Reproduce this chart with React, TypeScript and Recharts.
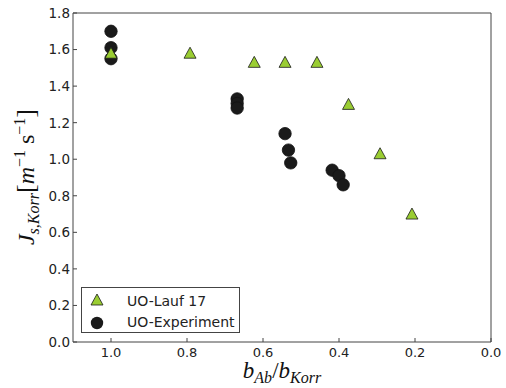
import { ReferenceArea, Scatter, ScatterChart, XAxis, YAxis } from "recharts";

const laufX = [1.0, 0.792, 0.623, 0.542, 0.458, 0.375, 0.292, 0.208];
const laufY = [1.58, 1.58, 1.53, 1.53, 1.53, 1.3, 1.03, 0.7];
const expX = [1.0, 1.0, 1.0, 0.668, 0.668, 0.668, 0.542, 0.533, 0.527, 0.418, 0.4, 0.389];
const expY = [1.7, 1.61, 1.55, 1.33, 1.305, 1.28, 1.14, 1.05, 0.98, 0.94, 0.91, 0.86];
const xTicks = [1.0, 0.8, 0.6, 0.4, 0.2, 0.0];
const yTicks = [0, 0.2, 0.4, 0.6, 0.8, 1.0, 1.2, 1.4, 1.6, 1.8];

const laufData = laufX.map((x, i) => ({ x, y: laufY[i] }));
const expData = expX.map((x, i) => ({ x, y: expY[i] }));

const FONT = "'DejaVu Sans', sans-serif";
const MATH = "'Liberation Serif', serif";
const FRAME = "#444";

const Triangle = (props: any) => {
  const { cx, cy } = props;
  return (
    <polygon
      points={`${cx},${cy - 6} ${cx + 6},${cy + 5} ${cx - 6},${cy + 5}`}
      fill="#9acd32"
      stroke="#1a1a1a"
      strokeWidth={0.8}
    />
  );
};

const Dot = (props: any) => {
  const { cx, cy } = props;
  return <circle cx={cx} cy={cy} r={6.2} fill="#1a1a1a" stroke="#111" strokeWidth={0.8} />;
};

const BottomTick = (props: any) => {
  const { x, y, payload } = props;
  return (
    <g>
      <line x1={x} y1={y} x2={x} y2={y - 4} stroke={FRAME} />
      <text x={x} y={y + 15} textAnchor="middle" fontSize={13} fontFamily={FONT} fill="#222">
        {payload.value.toFixed(1)}
      </text>
    </g>
  );
};

const TopTick = (props: any) => {
  const { x, y } = props;
  return <line x1={x} y1={y} x2={x} y2={y + 4} stroke={FRAME} />;
};

const LeftTick = (props: any) => {
  const { x, y, payload } = props;
  return (
    <g>
      <line x1={x} y1={y} x2={x + 4} y2={y} stroke={FRAME} />
      <text x={x - 3} y={y} dy="0.36em" textAnchor="end" fontSize={13.5} fontFamily={FONT} fill="#222">
        {payload.value.toFixed(1)}
      </text>
    </g>
  );
};

const RightTick = (props: any) => {
  const { x, y } = props;
  return <line x1={x} y1={y} x2={x - 4} y2={y} stroke={FRAME} />;
};

const LegendBox = () => (
  <div
    style={{
      position: "absolute",
      left: 81,
      top: 287,
      width: 159,
      height: 46,
      border: "1px solid #444",
      background: "#fff",
      boxSizing: "border-box",
    }}
  >
    <svg width={157} height={44} style={{ display: "block" }}>
      <polygon points="15,6 21,17 9,17" fill="#9acd32" stroke="#1a1a1a" strokeWidth={0.8} />
      <circle cx={15} cy={35} r={6.2} fill="#1a1a1a" />
      <text x={45} y={18} fontSize={14} fontFamily={FONT} fill="#222">
        UO-Lauf 17
      </text>
      <text x={45} y={39} fontSize={14} fontFamily={FONT} fill="#222">
        UO-Experiment
      </text>
    </svg>
  </div>
);

export default function App() {
  return (
    <div style={{ position: "absolute", left: 0, top: 0, width: 506, height: 388, background: "#fff" }}>
      <ScatterChart width={506} height={388} margin={{ top: 13, right: 15, left: 0, bottom: 0 }}>
        <XAxis
          xAxisId="b"
          type="number"
          dataKey="x"
          domain={[0, 1.1]}
          reversed
          ticks={xTicks}
          height={46}
          tickSize={0}
          tickMargin={0}
          tickLine={false}
          axisLine={false}
          tick={<BottomTick />}
          allowDataOverflow
        />
        <XAxis
          xAxisId="t"
          orientation="top"
          type="number"
          dataKey="x"
          domain={[0, 1.1]}
          reversed
          ticks={xTicks}
          height={0}
          tickSize={0}
          tickMargin={0}
          tickLine={false}
          axisLine={false}
          tick={<TopTick />}
          allowDataOverflow
        />
        <YAxis
          yAxisId="l"
          type="number"
          dataKey="y"
          domain={[0, 1.8]}
          ticks={yTicks}
          width={73}
          tickSize={0}
          tickMargin={0}
          tickLine={false}
          axisLine={false}
          tick={<LeftTick />}
          allowDataOverflow
        />
        <YAxis
          yAxisId="r"
          orientation="right"
          type="number"
          dataKey="y"
          domain={[0, 1.8]}
          ticks={yTicks}
          width={0}
          tickSize={0}
          tickMargin={0}
          tickLine={false}
          axisLine={false}
          tick={<RightTick />}
          allowDataOverflow
        />
        <ReferenceArea
          xAxisId="b"
          yAxisId="l"
          x1={0}
          x2={1.1}
          y1={0}
          y2={1.8}
          fill="none"
          fillOpacity={0}
          stroke={FRAME}
          strokeWidth={1}
          strokeOpacity={1}
        />
        <Scatter
          name="UO-Experiment"
          data={expData}
          xAxisId="b"
          yAxisId="l"
          shape={<Dot />}
          isAnimationActive={false}
        />
        <Scatter
          name="UO-Lauf 17"
          data={laufData}
          xAxisId="b"
          yAxisId="l"
          shape={<Triangle />}
          isAnimationActive={false}
        />
      </ScatterChart>
      <LegendBox />
      <svg
        width={506}
        height={388}
        style={{ position: "absolute", left: 0, top: 0, pointerEvents: "none" }}
      >
        <text x={282} y={378} textAnchor="middle" fontFamily={MATH} fontStyle="italic" fill="#111">
          <tspan fontSize={23}>b</tspan>
          <tspan fontSize={16} dy={5}>Ab</tspan>
          <tspan fontSize={23} dy={-5} fontStyle="normal">/</tspan>
          <tspan fontSize={23}>b</tspan>
          <tspan fontSize={16} dy={5}>Korr</tspan>
        </text>
        <text
          transform="translate(34,177) rotate(-90)"
          textAnchor="middle"
          fontFamily={MATH}
          fontStyle="italic"
          fill="#111"
        >
          <tspan fontSize={24}>J</tspan>
          <tspan fontSize={16} dy={5}>s,Korr</tspan>
          <tspan fontSize={26} dy={-5} fontStyle="normal">[</tspan>
          <tspan fontSize={24}>m</tspan>
          <tspan fontSize={16} dy={-9} fontStyle="normal">−1</tspan>
          <tspan fontSize={24} dy={9} fontStyle="normal"> s</tspan>
          <tspan fontSize={16} dy={-9} fontStyle="normal">−1</tspan>
          <tspan fontSize={26} dy={9} fontStyle="normal">]</tspan>
        </text>
      </svg>
    </div>
  );
}
